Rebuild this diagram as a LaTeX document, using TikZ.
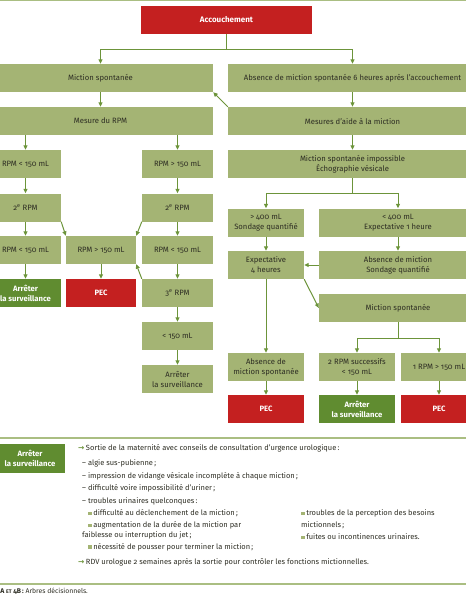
\documentclass[tikz,border=0pt]{standalone}
\usepackage{fontspec}
\setmainfont{Fira Sans}[Numbers=OldStyle]
\newfontfamily\dejavu{DejaVu Sans}
\usetikzlibrary{arrows.meta}
\definecolor{lgreen}{RGB}{164,180,116}
\definecolor{dgreen}{RGB}{96,140,48}
\definecolor{redbox}{RGB}{196,32,32}
\definecolor{arrowc}{RGB}{108,148,58}
\definecolor{txt}{RGB}{45,45,35}
\definecolor{rulec}{RGB}{170,190,130}
\newcommand{\gbul}{\textcolor{lgreen}{\rule[0.4pt]{3.3pt}{3.3pt}}\hspace{1.8pt}}
\newcommand{\garr}{{\color{arrowc}\dejavu\bfseries\fontsize{7.5}{8}\selectfont →}\hspace{1.5pt}}
\begin{document}
\begin{tikzpicture}[x=1pt,y=-1pt,
  base/.style={inner sep=0pt, minimum height=28pt, align=center, font=\fontsize{7.7}{10}\selectfont},
  lbox/.style={base, fill=lgreen, text=txt},
  dbox/.style={base, fill=dgreen, text=white, font=\fontsize{7.7}{10}\selectfont\bfseries},
  rbox/.style={base, fill=redbox, text=white, font=\fontsize{7.7}{10}\selectfont\bfseries},
  arr/.style={draw=arrowc, line width=1pt, -{Triangle[length=4.5pt,width=4pt]}},
  leg/.style={anchor=base west, inner sep=0pt, text=txt, font=\fontsize{7.5}{9}\selectfont}]
\useasboundingbox (0,0) rectangle (466,600);
\draw[rulec, line width=0.8pt] (0,0.6) -- (466,0.6);
% top
\node[rbox, minimum width=171pt, font=\fontsize{8}{9}\selectfont\bfseries] (acc) at (226.5,20) {Accouchement};
\node[lbox, minimum width=225pt] (ms) at (100.5,78) {Miction spontanée};
\node[lbox, minimum width=249pt] (abs) at (352.5,78) {Absence de miction spontanée 6 heures après l'accouchement};
\node[lbox, minimum width=225pt] (mrpm) at (100.5,121) {Mesure du RPM};
\node[lbox, minimum width=249pt] (aide) at (352.5,121) {Mesures d'aide à la miction};
\node[lbox, minimum width=249pt] (imp) at (352.5,164) {Miction spontanée impossible\\Échographie vésicale};
% left column
\node[lbox, minimum width=71pt] (l1) at (25.5,164) {RPM < 150 mL};
\node[lbox, minimum width=71pt] (l2) at (25.5,207.5) {2\textsuperscript{e} RPM};
\node[lbox, minimum width=71pt] (l3) at (25.5,250) {RPM < 150 mL};
\node[dbox, minimum width=71pt] (l4) at (25.5,293) {Arrêter\\la surveillance};
% middle
\node[lbox, minimum width=70pt] (m1) at (101,250) {RPM > 150 mL};
\node[rbox, minimum width=70pt] (m2) at (101,293) {PEC};
% right of left
\node[lbox, minimum width=71pt] (r1) at (177.5,164) {RPM > 150 mL};
\node[lbox, minimum width=71pt] (r2) at (177.5,207.5) {2\textsuperscript{e} RPM};
\node[lbox, minimum width=71pt] (r3) at (177.5,250) {RPM < 150 mL};
\node[lbox, minimum width=71pt] (r4) at (177.5,293) {3\textsuperscript{e} RPM};
\node[lbox, minimum width=71pt] (r5) at (177.5,336) {< 150 mL};
\node[lbox, minimum width=71pt] (r6) at (177.5,379) {Arrêter\\la surveillance};
% right side
\node[lbox, minimum width=76pt] (a400) at (266,222.5) {> 400 mL\\Sondage quantifié};
\node[lbox, minimum width=158pt] (b400) at (398,222.5) {< 400 mL\\Expectative 1 heure};
\node[lbox, minimum width=76pt] (exp4) at (266,265) {Expectative\\4 heures};
\node[lbox, minimum width=158pt] (absm) at (398,265) {Absence de miction\\Sondage quantifié};
\node[lbox, minimum width=158pt] (msr) at (398,308) {Miction spontanée};
\node[lbox, minimum width=76pt] (absms) at (266,367) {Absence de\\miction spontanée};
\node[lbox, minimum width=76pt] (rpm2) at (357,367) {2 RPM successifs\\< 150 mL};
\node[lbox, minimum width=76pt] (rpm1) at (439,367) {1 RPM > 150 mL};
\node[rbox, minimum width=76pt] (pec3) at (266,409) {PEC};
\node[dbox, minimum width=76pt] (arr3) at (357,409) {Arrêter\\la surveillance};
\node[rbox, minimum width=76pt] (pec4) at (439,409) {PEC};
% connectors
\draw[arr] (acc.south) -- ++(0,15) -| (ms.north);
\draw[arr] (acc.south) -- ++(0,15) -| (abs.north);
\draw[arr] (ms) -- (mrpm);
\draw[arr] (abs) -- (aide);
\draw[arr] (aide.north west) -- (ms.south east);
\draw[arr] (l1.north |- mrpm.south) -- (l1.north);
\draw[arr] (r1.north |- mrpm.south) -- (r1.north);
\draw[arr] (l1) -- (l2);
\draw[arr] (l2) -- (l3);
\draw[arr] (l3) -- (l4);
\draw[arr] (r1) -- (r2);
\draw[arr] (r2) -- (r3);
\draw[arr] (r3) -- (r4);
\draw[arr] (r4) -- (r5);
\draw[arr] (r5) -- (r6);
\draw[arr] (m1) -- (m2);
\draw[arr] (l2.south east) -- (m1.north west);
\draw[arr] (r2.south west) -- (m1.north east);
\draw[arr] (r4.north west) -- (m1.south east);
\draw[arr] (aide) -- (imp);
\draw[arr] (imp.south) -- ++(0,15) -| (a400.north);
\draw[arr] (imp.south) -- ++(0,15) -| (b400.north);
\draw[arr] (a400) -- (exp4);
\draw[arr] (b400) -- (absm);
\draw[arr] (absm) -- (exp4);
\draw[arr] (exp4.south east) -- (msr.west);
\draw[arr] (exp4) -- (absms);
\draw[arr] (msr.south) -- ++(0,16) -| (rpm2.north);
\draw[arr] (msr.south) -- ++(0,16) -| (rpm1.north);
\draw[arr] (absms) -- (pec3);
\draw[arr] (rpm2) -- (arr3);
\draw[arr] (rpm1) -- (pec4);
% legend
\draw[rulec, line width=1.5pt] (0,438) -- (466,438);
\draw[rulec, line width=1.5pt] (0,584) -- (466,584);
\node[dbox, minimum width=70pt, minimum height=29pt] (lg) at (30,458.5) {Arrêter\\la surveillance};
\node[leg] (t1) at (78,450) {\garr Sortie de la maternité avec conseils de consultation d'urgence urologique\,:};
\node[leg] (t2) at (82,465.5) {– algie sus-pubienne\,;};
\node[leg] (t3) at (82,478) {– impression de vidange vésicale incomplète à chaque miction\,;};
\node[leg] (t4) at (82,490.5) {– difficulté voire impossibilité d'uriner\,;};
\node[leg] (t5) at (82,503) {– troubles urinaires quelconques\,:};
\node[leg] (t6) at (88,515.5) {\gbul difficulté au déclenchement de la miction\,;};
\node[leg] (t7) at (88,527.5) {\gbul augmentation de la durée de la miction par};
\node[leg] (t8) at (82,537.5) {faiblesse ou interruption du jet\,;};
\node[leg] (t9) at (88,549) {\gbul nécessité de pousser pour terminer la miction\,;};
\node[leg] (t10) at (78,564) {\garr RDV urologue 2 semaines après la sortie pour contrôler les fonctions mictionnelles.};
\node[leg] (u1) at (301,515.5) {\gbul troubles de la perception des besoins};
\node[leg] (u2) at (301,527.5) {mictionnels\,;};
\node[leg] (u3) at (301,539.5) {\gbul fuites ou incontinences urinaires.};
\node[leg, font=\fontsize{6.8}{8}\selectfont] (cap) at (-3.5,593) {\textbf{4A {\fontsize{5.2}{6}\selectfont ET} 4B\,:} Arbres décisionnels.};
\end{tikzpicture}
\end{document}
